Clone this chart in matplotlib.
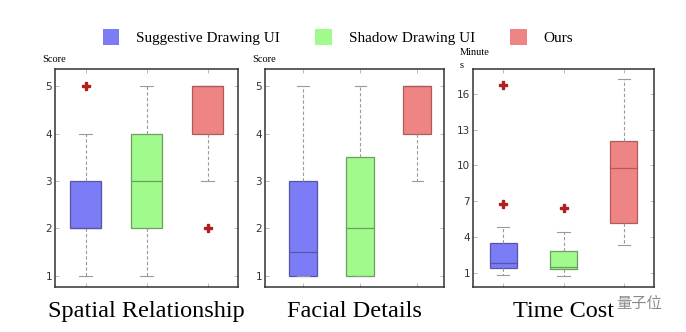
import matplotlib
matplotlib.use("Agg")
import matplotlib.pyplot as plt
from matplotlib.patches import Patch

groups = ["Suggestive Drawing UI", "Shadow Drawing UI", "Ours"]
box_colors = ["#7b7cf6", "#a0fb8c", "#ee8584"]
edge_colors = ["#5656a8", "#6c9e62", "#b05a5a"]

titles = ["Spatial Relationship", "Facial Details", "Time Cost"]
units = ["Score", "Score", "Minute\ns"]

# (whislo, q1, med, q3, whishi, outliers) per group
spatial = [
    (1, 2, 2, 3, 4, [5]),
    (1, 2, 3, 4, 5, []),
    (3, 4, 5, 5, 5, [2]),
]
facial = [
    (1, 1, 1.5, 3, 5, []),
    (1, 1, 2, 3.5, 5, []),
    (3, 4, 5, 5, 5, []),
]
time_cost = [
    (0.78, 1.42, 1.81, 3.47, 4.81, [6.8, 16.76]),
    (0.7, 1.28, 1.5, 2.82, 4.44, [6.46]),
    (3.3, 5.17, 9.77, 12.03, 17.26, []),
]
score_ticks = [1, 2, 3, 4, 5]
time_ticks = [1, 4, 7, 10, 13, 16]

panels = [spatial, facial, time_cost]
yticks = [score_ticks, score_ticks, time_ticks]
ylims = [(0.76, 5.37), (0.76, 5.37), (-0.2, 18.1)]
xlims = [(0.5, 3.5), (0.33, 3.47), (0.5, 3.5)]
widths = [0.5, 0.5, 0.45]
axes_px = [(55, 238), (265, 444), (473, 654)]

W, H = 686, 332
fig = plt.figure(figsize=(W / 100, H / 100), dpi=100)
serif = "Liberation Serif"

for i, data in enumerate(panels):
    x0, x1 = axes_px[i]
    top, bottom = 69, 287
    ax = fig.add_axes([x0 / W, 1 - bottom / H, (x1 - x0) / W, (bottom - top) / H])
    stats = []
    for lo, q1, med, q3, hi, fl in data:
        stats.append(dict(whislo=lo, q1=q1, med=med, q3=q3, whishi=hi, fliers=fl))
    bp = ax.bxp(stats, positions=[1, 2, 3], widths=widths[i], patch_artist=True,
                showfliers=True,
                whiskerprops=dict(color="#9a9a9a", linestyle=(0, (3, 2)), linewidth=0.8),
                capprops=dict(color="#9a9a9a", linewidth=0.8),
                flierprops=dict(marker="P", markersize=6, markerfacecolor="#b0201f",
                                markeredgecolor="#b0201f", linestyle="none"))
    for j, box in enumerate(bp["boxes"]):
        box.set_facecolor(box_colors[j])
        box.set_edgecolor(edge_colors[j])
        box.set_linewidth(0.9)
        bp["medians"][j].set_color(edge_colors[j])
        bp["medians"][j].set_linewidth(0.9)
    for cap in bp["caps"]:
        xs = cap.get_xdata()
        c = (xs[0] + xs[1]) / 2
        cap.set_xdata([c - 0.1, c + 0.1])

    ax.set_xlim(*xlims[i])
    ax.set_ylim(*ylims[i])
    ax.set_yticks(yticks[i])
    ax.set_xticks([1, 2, 3])
    ax.set_xticklabels([])
    ax.tick_params(direction="in", top=True, right=True, length=3, width=0.6,
                   color="#b0b0b0", labelsize=7.5, labelcolor="#333333", pad=2)
    for s in ax.spines.values():
        s.set_color("#333333")
        s.set_linewidth(1.1)

    fig.text((x0 - 13) / W, 1 - 59 / H, units[i], family=serif, fontsize=7.5,
             ha="left", va="center", linespacing=1.7)
    fig.text((x0 + x1) / 2 / W, 1 - 317 / H, titles[i], family=serif,
             fontsize=17.5, ha="center", va="baseline")

handles = [Patch(facecolor=c, edgecolor="none") for c in box_colors]
fig.legend(handles, groups, loc="center", bbox_to_anchor=(338 / W, 1 - 37 / H),
           ncol=3, frameon=False, prop=dict(family=serif, size=11),
           handlelength=1.1, handleheight=1.2, columnspacing=2.3, handletextpad=1.1)

fig.text(639 / W, 1 - 303 / H, "量子位", family=["Noto Sans CJK SC", "DejaVu Sans"],
         fontsize=11, color="#8a8a8a", ha="center", va="center")

fig.savefig("out.png", dpi=100)
